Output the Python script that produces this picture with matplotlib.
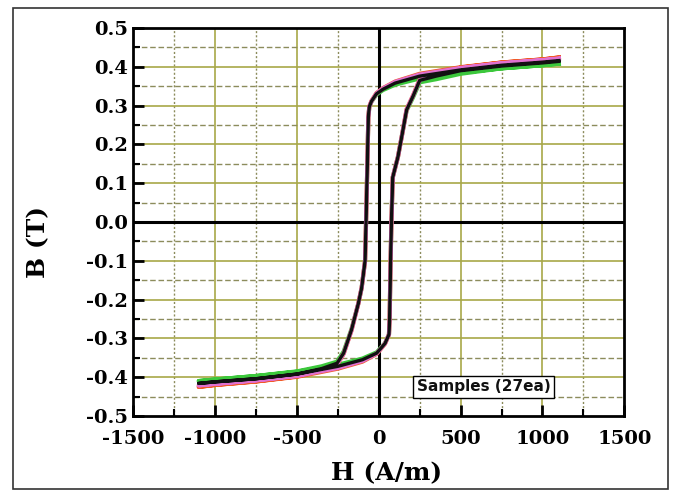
import matplotlib
matplotlib.use("Agg")
import matplotlib.pyplot as plt
from matplotlib.patches import Rectangle
from matplotlib.ticker import MultipleLocator

# ---- data (H in A/m, B in T), closed loop starting at +Hmax ----
H_loop = [1100, 1000, 750, 500, 250, 100, 25, -15, -45, -58, -64, -70, -78, -84,
          -105, -125, -167, -215, -255, -350, -500, -750, -1000, -1100,
          -1000, -750, -500, -250, -100, -13, 38, 62, 66, 72, 77, 85, 117, 140,
          170, 210, 250, 350, 500, 750, 1000, 1100]

B_green = [0.408, 0.404, 0.396, 0.385, 0.370, 0.354, 0.340, 0.328, 0.310, 0.296, 0.27, 0.15, 0.0, -0.10,
           -0.17, -0.21, -0.276, -0.334, -0.360, -0.372, -0.385, -0.397, -0.406, -0.410,
           -0.406, -0.397, -0.386, -0.368, -0.352, -0.336, -0.312, -0.29, -0.25, -0.10, 0.0, 0.115, 0.168, 0.22,
           0.287, 0.322, 0.360, 0.368, 0.382, 0.396, 0.404, 0.408]

B_red = [0.424, 0.419, 0.411, 0.399, 0.382, 0.362, 0.345, 0.332, 0.312, 0.298, 0.27, 0.15, 0.0, -0.10,
         -0.17, -0.21, -0.280, -0.340, -0.368, -0.383, -0.398, -0.411, -0.420, -0.425,
         -0.420, -0.411, -0.399, -0.378, -0.360, -0.340, -0.314, -0.29, -0.25, -0.10, 0.0, 0.115, 0.168, 0.22,
         0.291, 0.327, 0.368, 0.382, 0.398, 0.411, 0.419, 0.424]

B_magenta = [0.421, 0.417, 0.409, 0.397, 0.380, 0.361, 0.344, 0.331, 0.311, 0.297, 0.27, 0.15, 0.0, -0.10,
             -0.17, -0.21, -0.279, -0.339, -0.367, -0.381, -0.396, -0.408, -0.417, -0.421,
             -0.417, -0.408, -0.397, -0.376, -0.358, -0.339, -0.313, -0.29, -0.25, -0.10, 0.0, 0.115, 0.168, 0.22,
             0.290, 0.326, 0.366, 0.380, 0.396, 0.409, 0.417, 0.421]

B_black = [0.416, 0.412, 0.404, 0.392, 0.376, 0.358, 0.342, 0.330, 0.311, 0.297, 0.27, 0.15, 0.0, -0.10,
           -0.17, -0.21, -0.278, -0.338, -0.364, -0.378, -0.392, -0.404, -0.412, -0.416,
           -0.412, -0.404, -0.392, -0.372, -0.355, -0.338, -0.313, -0.29, -0.25, -0.10, 0.0, 0.115, 0.168, 0.22,
           0.289, 0.325, 0.365, 0.376, 0.390, 0.402, 0.410, 0.414]

series = [("green", "#3cc83c"), ("red", "#f05a28"), ("magenta", "#e070d0"), ("black", "#111111")]
series_B = {"green": B_green, "red": B_red, "magenta": B_magenta, "black": B_black}

x_ticks = [-1500, -1000, -500, 0, 500, 1000, 1500]
y_ticks = [-0.5, -0.4, -0.3, -0.2, -0.1, 0.0, 0.1, 0.2, 0.3, 0.4, 0.5]
annotation = "Samples (27ea)"

# ---- figure ----
fig = plt.figure(figsize=(6.82, 5.01), dpi=100)
fig.patches.append(Rectangle((13 / 682, 1 - 489 / 501), (668 - 13) / 682, (489 - 8) / 501,
                             transform=fig.transFigure, fill=False, edgecolor="#333333", lw=1.2))
ax = fig.add_axes([0.1955, 0.1697, 0.7199, 0.7744])

ax.set_xlim(-1500, 1500)
ax.set_ylim(-0.5, 0.5)

# grid
for xv in [-1000, -500, 500, 1000]:
    ax.axvline(xv, color="#a8a848", lw=1.2, zorder=1)
for xv in [-1250, -750, -250, 250, 750, 1250]:
    ax.axvline(xv, color="#8c8c5c", lw=1.0, ls=(0, (1.5, 1.5)), zorder=1)
for yv in [-0.4, -0.3, -0.2, -0.1, 0.1, 0.2, 0.3, 0.4]:
    ax.axhline(yv, color="#a8a848", lw=1.2, zorder=1)
for yv in [-0.45, -0.35, -0.25, -0.15, -0.05, 0.05, 0.15, 0.25, 0.35, 0.45]:
    ax.axhline(yv, color="#8c8c5c", lw=1.0, ls=(0, (4, 2)), zorder=1)
ax.axhline(0, color="black", lw=2.2, zorder=2)
ax.axvline(0, color="black", lw=2.2, zorder=2)

# curves
for name, col in series:
    lw = 2.4 if name == "black" else 3.0
    ax.plot(H_loop, series_B[name], color=col, lw=lw, zorder=5 if name == "black" else 4,
            solid_joinstyle="round")

# ticks
ax.set_xticks(x_ticks)
ax.set_yticks(y_ticks)
ax.xaxis.set_minor_locator(MultipleLocator(250))
ax.yaxis.set_minor_locator(MultipleLocator(0.05))
ax.set_xticklabels([str(v) for v in x_ticks])
ax.set_yticklabels([f"{v:.1f}" for v in y_ticks])
ax.tick_params(axis="both", which="major", direction="in", length=8, width=2,
               top=False, right=False)
ax.tick_params(axis="both", which="minor", direction="in", length=5, width=1.5,
               top=False, right=False)
ax.tick_params(axis="x", which="major", pad=10)
ax.tick_params(axis="y", which="major", pad=4)
for lab in ax.get_xticklabels() + ax.get_yticklabels():
    lab.set_fontfamily("DejaVu Serif")
    lab.set_fontweight("bold")
    lab.set_fontsize(14)
for sp in ax.spines.values():
    sp.set_linewidth(2)
    sp.set_color("black")

fig.text(387 / 682, 1 - 473 / 501, "H (A/m)", ha="center", va="center",
         fontfamily="DejaVu Serif", fontweight="bold", fontsize=18)
fig.text(38 / 682, 1 - 242 / 501, "B (T)", ha="center", va="center", rotation=90,
         fontfamily="DejaVu Serif", fontweight="bold", fontsize=18)

ax.text(640, -0.425, annotation, ha="center", va="center", fontsize=11,
        fontweight="bold", fontfamily="DejaVu Sans", color="#111111", zorder=6,
        bbox=dict(boxstyle="square,pad=0.25", facecolor="white", edgecolor="black", lw=1))

fig.savefig("out.png", dpi=100)
